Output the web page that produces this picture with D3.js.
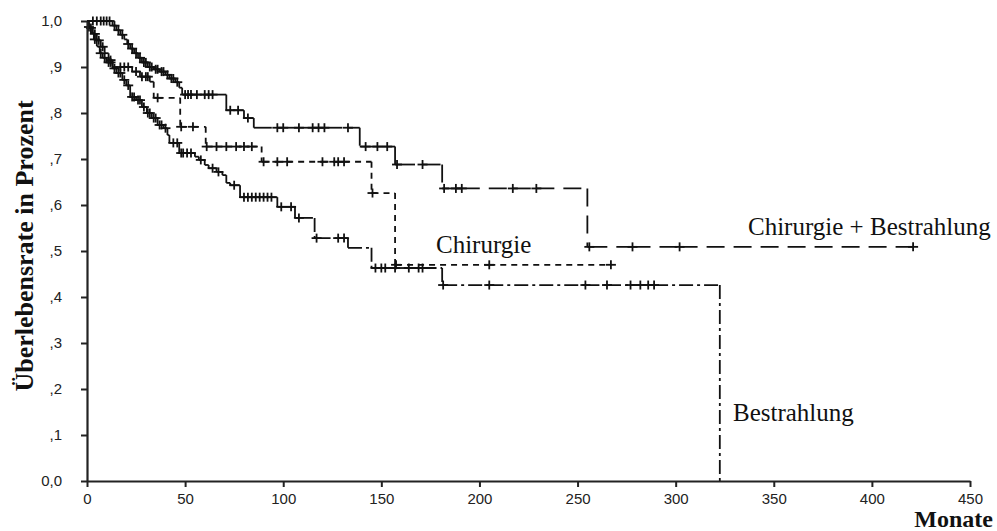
<!DOCTYPE html>
<html><head><meta charset="utf-8">
<script src="https://cdn.jsdelivr.net/npm/d3@7"></script>
<style>body{margin:0;background:#fff}</style>
</head><body>
<svg id="chart" width="997" height="531"></svg>
<script>
// ---- data (months, survival) ----
const xTickValues = [0,50,100,150,200,250,300,350,400,450];
const yTickValues = [0,0.1,0.2,0.3,0.4,0.5,0.6,0.7,0.8,0.9,1.0];
const yTickLabels = ["0,0",",1",",2",",3",",4",",5",",6",",7",",8",",9","1,0"];

// Chirurgie + Bestrahlung
const cbEventTimes = [13,15,17,19,20.5,22,24,26,28,31,34,37,40,42,45,47,48.5,71,80,85,139,157,181,255];
const cbEventSurv  = [0.99,0.98,0.97,0.96,0.95,0.94,0.93,0.92,0.91,0.90,0.895,0.89,0.883,0.875,0.867,0.855,0.84,0.806,0.789,0.768,0.727,0.688,0.636,0.509];
const cbCensor = [3,5,7,8.5,10,11.5,14,16,18,21,23,25,27,29,30,32,33,35,36,38,39,41,43,44,46,50,51.5,53,56,60,62,64,73,77,82,97,100,108,115,118,121,133,142,148,153,158,171,182,188,191,217,229,256,278,302,421];

// Chirurgie
const chEventTimes = [1,3,5,7,9,11,13,23,27,32,34,47.5,60.5,89,145,157];
const chEventSurv  = [0.985,0.972,0.958,0.944,0.93,0.915,0.90,0.89,0.879,0.868,0.833,0.77,0.727,0.694,0.626,0.47];
const chCensor = [2,4,6,8,12,17,19,21,25,28,30,31,36,48,54,61,66,71,76,80,84,90,97,102,120,126,128,131,145.5,157.5,205,267];

// Bestrahlung
const beEventTimes = [0.5,2,3.5,5,6.5,8,10,13,15,18,20,22,25,28,30.5,33,36,39,41,42,47,55,57,60,62,66,69,71,73,78,97,106,116,133,145,181,322.5];
const beEventSurv  = [0.987,0.974,0.96,0.945,0.93,0.92,0.91,0.897,0.887,0.872,0.86,0.835,0.828,0.813,0.80,0.789,0.774,0.767,0.752,0.735,0.713,0.705,0.698,0.687,0.68,0.672,0.665,0.648,0.643,0.617,0.596,0.572,0.528,0.507,0.463,0.426,0.0];
const beCensor = [1,4,7,9,11,12,14,16,17,19,21,23,24,26,27,29,31,32,34,35,37,38,40,44,46,48,49,51,53,58,64,67,75,80,82,84,86,88,90,92,94,99,104,108,117,128,131,147,150,152,157,164,169,171,181.5,205,254,265,277,282,286,289];

const labels = [
  {text:"Chirurgie + Bestrahlung", x:748, y:235},
  {text:"Chirurgie", x:436, y:253},
  {text:"Bestrahlung", x:733, y:421}
];

// ---- drawing ----
const svg = d3.select("#chart");
const x = d3.scaleLinear().domain([0,450]).range([87,970]);
const y = d3.scaleLinear().domain([0,1]).range([481,21]);

const curves = [
  {times:cbEventTimes, surv:cbEventSurv, cens:cbCensor, dash:"18,9"},
  {times:chEventTimes, surv:chEventSurv, cens:chCensor, dash:"6,5"},
  {times:beEventTimes, surv:beEventSurv, cens:beCensor, dash:"14,4,3,4"}
];

function survAt(c, t){
  let s = 1;
  for (let i=0;i<c.times.length;i++){ if (c.times[i] <= t) s = c.surv[i]; }
  return s;
}

const g = svg.append("g");
curves.forEach(c => {
  const pts = Array.from(new Set([0, ...c.times, ...c.cens])).sort((a,b)=>a-b);
  const segs = [];
  let s = 1;
  for (let i=0;i<pts.length;i++){
    const t = pts[i];
    const k = c.times.indexOf(t);
    if (k >= 0){
      segs.push({x1:t,y1:s,x2:t,y2:c.surv[k]});
      s = c.surv[k];
    }
    if (i < pts.length-1){
      segs.push({x1:t,y1:s,x2:pts[i+1],y2:s});
    }
  }
  g.append("g").selectAll("line").data(segs).join("line")
    .attr("x1",d=>x(d.x1)).attr("x2",d=>x(d.x2))
    .attr("y1",d=>y(d.y1)).attr("y2",d=>y(d.y2))
    .attr("stroke","#111").attr("stroke-width",1.8)
    .attr("stroke-dasharray",c.dash).attr("fill","none");
  const cg = g.append("g").selectAll("g").data(c.cens).join("g")
    .attr("transform",d=>`translate(${x(d)},${y(survAt(c,d))})`);
  cg.append("line").attr("x1",-5).attr("x2",5).attr("y1",0).attr("y2",0)
    .attr("stroke","#111").attr("stroke-width",1.8);
  cg.append("line").attr("x1",0).attr("x2",0).attr("y1",-4.5).attr("y2",4.5)
    .attr("stroke","#111").attr("stroke-width",1.8);
});

// axes
const yAxis = d3.axisLeft(y).tickValues(yTickValues)
  .tickFormat((d,i)=>yTickLabels[i]).tickSize(6).tickSizeOuter(0).tickPadding(19);
const xAxis = d3.axisBottom(x).tickValues(xTickValues)
  .tickFormat(d=>String(d)).tickSize(6).tickSizeOuter(0).tickPadding(6);

const ya = svg.append("g").attr("transform","translate(87,0)").call(yAxis);
const xa = svg.append("g").attr("transform","translate(0,481)").call(xAxis);
[ya,xa].forEach(a=>{
  a.select(".domain").attr("stroke","#222").attr("stroke-width",2.2);
  a.selectAll(".tick line").attr("stroke","#222").attr("stroke-width",2);
  a.selectAll(".tick text").attr("fill","#222")
    .style("font-family","'Liberation Sans', Arial, sans-serif").style("font-size","15px");
});

// titles
svg.append("text")
  .attr("transform","translate(33,246) rotate(-90)")
  .attr("text-anchor","middle")
  .style("font-family","'Liberation Serif','Times New Roman',serif")
  .style("font-weight","bold").style("font-size","26px").attr("fill","#111")
  .text("Überlebensrate in Prozent");

svg.append("text")
  .attr("x",993).attr("y",527).attr("text-anchor","end")
  .style("font-family","'Liberation Serif','Times New Roman',serif")
  .style("font-weight","bold").style("font-size","24px").attr("fill","#111")
  .text("Monate");

svg.append("g").selectAll("text").data(labels).join("text")
  .attr("x",d=>d.x).attr("y",d=>d.y)
  .style("font-family","'Liberation Serif','Times New Roman',serif")
  .style("font-size","25px").attr("fill","#111")
  .text(d=>d.text);
</script>
</body></html>
